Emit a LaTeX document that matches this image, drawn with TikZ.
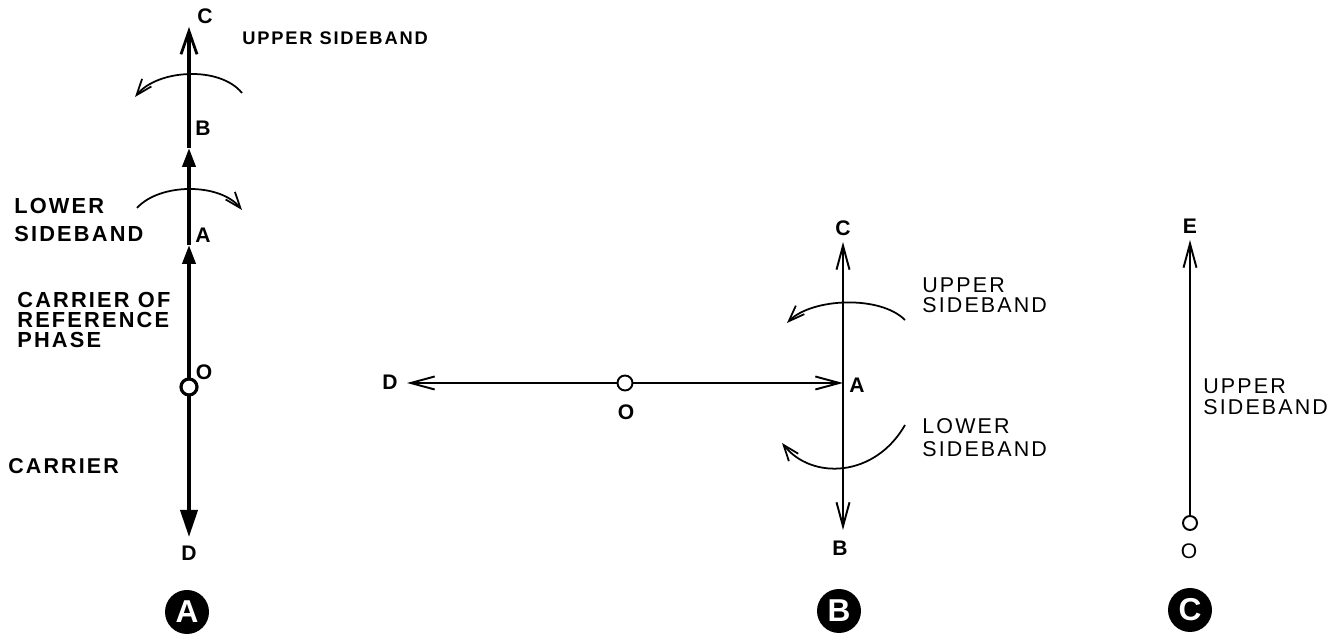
\documentclass[tikz,border=0pt]{standalone}
\usepackage{fontspec}
\setmainfont{Liberation Sans}[LetterSpace=10]
\usetikzlibrary{arrows.meta}

\begin{document}
\begin{tikzpicture}
    \pgfmathsetmacro{\xa}{3.78}
    \pgfmathsetmacro{\xb}{16.86}
    \pgfmathsetmacro{\xc}{23.80}
    \tikzset{
        lbl/.style={font=\bfseries\fontsize{12}{12}\selectfont, inner sep=0pt},
        txt/.style={font=\fontsize{12.2}{11.5}\selectfont, align=left, anchor=west, inner sep=0pt},
        heavy/.style={line width=2.2pt},
        light/.style={line width=1.1pt},
        openhead/.style={-{Straight Barb[length=4.6mm,width=3.2mm,line width=1.6pt]}},
        thinhead/.style={-{Straight Barb[length=4.8mm,width=2.6mm]}},
        fillhead/.style={-{Triangle[length=3.8mm,width=2.6mm]}},
        archead/.style={line width=1pt, -{Straight Barb[length=3.2mm,width=2.4mm]}},
        origin/.style={circle, draw, fill=white, inner sep=0pt, minimum size=#1},
        fig/.style={circle, fill=black, text=white, minimum size=0.88cm, inner sep=0pt,
            font=\bfseries\fontsize{18}{18}\selectfont}
    }
    \useasboundingbox (0,0) rectangle (26.82,12.8);

    % diagram A
    \coordinate (Ca) at (\xa,12.26);
    \coordinate (Ba) at (\xa,9.84);
    \coordinate (Aa) at (\xa,7.90);
    \coordinate (Oa) at (\xa,5.06);
    \coordinate (Da) at (\xa,2.06);
    \draw[heavy, fillhead] (Oa) -- (Aa);
    \draw[heavy, fillhead] (Aa) -- (Ba);
    \draw[heavy, openhead] (Ba) -- (Ca);
    \draw[heavy, -{Triangle[length=5.4mm,width=3.4mm]}] (Oa) -- (Da);
    \node[origin=0.32cm, line width=1.8pt] (oa) at (Oa) {};
    \coordinate (ua1) at (4.84,10.94);
    \coordinate (ua2) at (2.70,10.86);
    \draw[archead] (ua1) .. controls +(-0.45,0.55) and +(0.45,0.55) .. (ua2);
    \coordinate (la1) at (2.74,8.64);
    \coordinate (la2) at (4.84,8.60);
    \draw[archead] (la1) .. controls +(0.45,0.5) and +(-0.45,0.55) .. (la2);
    \node[lbl] (labCa) at (4.10,12.48) {C};
    \node[lbl] (labBa) at (4.06,10.24) {B};
    \node[lbl] (labAa) at (4.06,8.10) {A};
    \node[lbl] (labOa) at (4.08,5.36) {O};
    \node[lbl] (labDa) at (3.78,1.74) {D};
    \node[txt, font=\bfseries\fontsize{10.4}{12}\selectfont] (usba) at (4.84,12.04) {UPPER SIDEBAND};
    \node[txt, font=\bfseries\fontsize{12.4}{16}\selectfont] (lsba) at (0.28,8.40) {LOWER\\SIDEBAND};
    \node[txt, font=\bfseries\fontsize{12.4}{11.2}\selectfont] (refa) at (0.34,6.40) {CARRIER OF\\REFERENCE\\PHASE};
    \node[txt, font=\bfseries\fontsize{12.2}{12}\selectfont] (cara) at (0.16,3.48) {CARRIER};
    \node[fig] (figA) at (3.74,0.56) {A};

    % diagram B
    \coordinate (Ob) at (12.50,5.14);
    \coordinate (Db) at (8.14,5.14);
    \coordinate (Ab) at (\xb,5.14);
    \coordinate (Cb) at (\xb,7.96);
    \coordinate (Bb) at (\xb,2.20);
    \draw[light, thinhead] (Ob) -- (Db);
    \draw[light, thinhead] (Ob) -- (Ab);
    \draw[light, thinhead] (Ab) -- (Cb);
    \draw[light, thinhead] (Ab) -- (Bb);
    \node[origin=0.3cm, line width=1.1pt] (ob) at (Ob) {};
    \coordinate (ub1) at (18.10,6.40);
    \coordinate (ub2) at (15.74,6.34);
    \draw[archead] (ub1) .. controls +(-0.5,0.5) and +(0.5,0.5) .. (ub2);
    \coordinate (lb1) at (18.10,4.30);
    \coordinate (lb2) at (15.64,3.94);
    \draw[archead] (lb1) .. controls +(-0.6,-1.05) and +(0.6,-0.75) .. (lb2);
    \node[lbl] (labDb) at (7.80,5.16) {D};
    \node[lbl] (labOb) at (12.52,4.56) {O};
    \node[lbl] (labAb) at (17.14,5.10) {A};
    \node[lbl] (labCb) at (16.86,8.24) {C};
    \node[lbl] (labBb) at (16.80,1.84) {B};
    \node[txt] (usbb) at (18.44,6.90) {UPPER\\SIDEBAND};
    \node[txt, font=\fontsize{12.2}{13}\selectfont] (lsbb) at (18.44,4.04) {LOWER\\SIDEBAND};
    \node[fig] (figB) at (16.78,0.58) {B};

    % diagram C
    \coordinate (Oc) at (\xc,2.34);
    \coordinate (Ec) at (\xc,8.00);
    \draw[light, thinhead] (Oc) -- (Ec);
    \node[origin=0.28cm, line width=1.1pt] (oc) at (Oc) {};
    \node[lbl] (labEc) at (23.80,8.28) {E};
    \node[lbl, font=\fontsize{12}{12}\selectfont] (labOc) at (23.78,1.78) {O};
    \node[txt, font=\fontsize{12.2}{12}\selectfont] (usbc) at (24.06,4.86) {UPPER\\SIDEBAND};
    \node[fig] (figC) at (23.80,0.60) {C};
\end{tikzpicture}
\end{document}
